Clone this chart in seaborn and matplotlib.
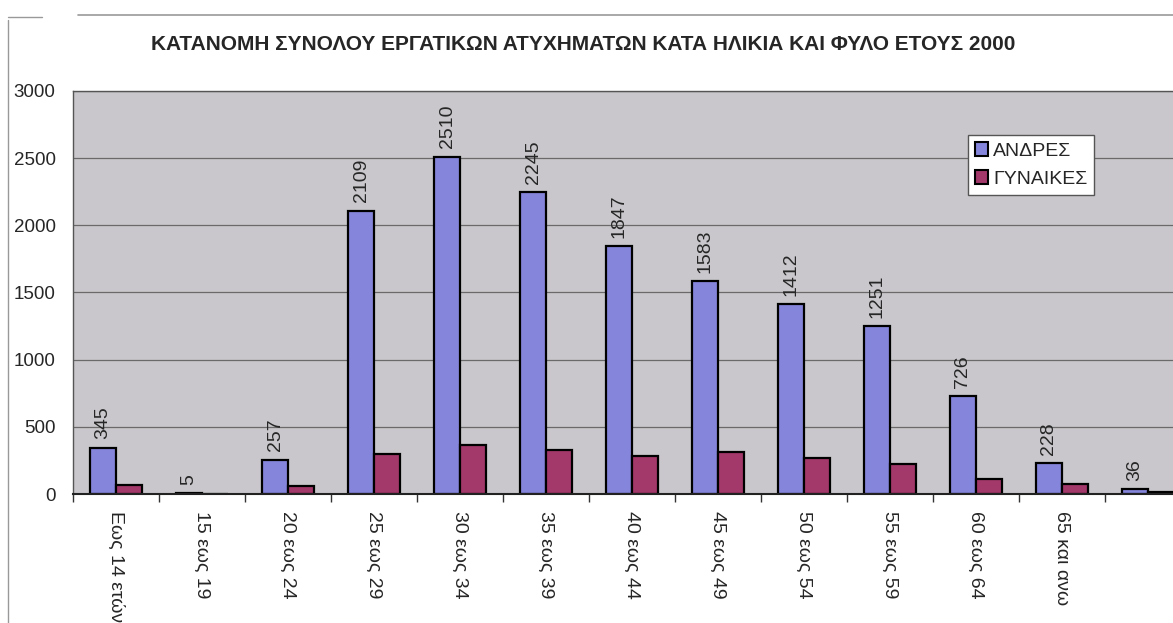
import numpy as np
import pandas as pd
import matplotlib
matplotlib.use('Agg')
import matplotlib.pyplot as plt
from matplotlib.patches import Patch
from matplotlib.lines import Line2D
import seaborn as sns

# δεδομένα
ages = ['Εως 14 ετών', '15 εως 19', '20 εως 24', '25 εως 29', '30 εως 34', '35 εως 39',
        '40 εως 44', '45 εως 49', '50 εως 54', '55 εως 59', '60 εως 64', '65 και ανω', '']
andres = [345, 5, 257, 2109, 2510, 2245, 1847, 1583, 1412, 1251, 726, 228, 36]
gynaikes = [65, 0, 60, 300, 365, 328, 283, 310, 266, 223, 109, 72, 12]
series = ['ΑΝΔΡΕΣ', 'ΓΥΝΑΙΚΕΣ']
colors = ['#8585DC', '#A3386A']

df = pd.DataFrame({
    'age': ages * 2,
    'value': andres + gynaikes,
    'sex': [series[0]] * len(ages) + [series[1]] * len(ages),
})

sns.set_style('white')
plt.rcParams['font.family'] = ['Liberation Sans', 'DejaVu Sans']

fig = plt.figure(figsize=(11.73, 6.23), dpi=100)
ax = fig.add_axes([0.0622, 0.207, 0.953, 0.647])
ax.set_facecolor('#C9C7CB')

sns.barplot(data=df, x='age', y='value', hue='sex', order=ages, hue_order=series,
            palette=colors, saturation=1, width=0.6, edgecolor='black', linewidth=1.6,
            errorbar=None, legend=False, ax=ax)

ax.set_ylim(0, 3000)
ax.set_xlim(-0.5, len(ages) - 0.5)
ax.set_yticks(np.arange(0, 3001, 500))
ax.yaxis.grid(True, color='#6A6A6A', linewidth=0.9)
ax.set_axisbelow(True)
ax.set_xlabel('')
ax.set_ylabel('')

# ετικέτες τιμών μόνο για τους άνδρες
ax.bar_label(ax.containers[0], labels=[str(v) for v in andres], rotation=90,
             padding=6, fontsize=14)

ax.tick_params(axis='y', labelsize=13.5, length=4.5, width=1, color='#333333', pad=8)
ax.set_xticks(range(len(ages)))
ax.set_xticklabels(ages, rotation=-90, fontsize=14, va='top', ha='center')
ax.set_xticks(np.arange(-0.5, len(ages), 1), minor=True)
ax.tick_params(axis='x', which='major', length=0, pad=12)
ax.tick_params(axis='x', which='minor', length=6, width=1, color='#333333', bottom=True)

for s in ['top', 'bottom', 'left', 'right']:
    ax.spines[s].set_color('#555555')
    ax.spines[s].set_linewidth(1)
ax.spines['bottom'].set_color('#222222')
ax.spines['bottom'].set_linewidth(1.5)

handles = [Patch(facecolor=c, edgecolor='black', linewidth=1.5, label=s)
           for c, s in zip(colors, series)]
leg = ax.legend(handles=handles, loc='upper left', bbox_to_anchor=(0.825, 0.783),
                bbox_transform=fig.transFigure, fontsize=14, frameon=True, fancybox=False,
                handlelength=0.7, handleheight=0.7, handletextpad=0.25, borderpad=0.35,
                labelspacing=0.55, borderaxespad=0)
leg.get_frame().set_edgecolor('#555555')
leg.get_frame().set_linewidth(1)
leg.get_frame().set_facecolor('white')
leg.get_frame().set_alpha(1)

fig.text(0.497, 1 - 45 / 623, 'ΚΑΤΑΝΟΜΗ ΣΥΝΟΛΟΥ ΕΡΓΑΤΙΚΩΝ ΑΤΥΧΗΜΑΤΩΝ ΚΑΤΑ ΗΛΙΚΙΑ ΚΑΙ ΦΥΛΟ ΕΤΟΥΣ 2000',
         ha='center', va='center', fontsize=15, fontweight='bold')

# πλαίσιο σαρωμένης σελίδας
fig.add_artist(Line2D([78 / 1173, 1], [1 - 15 / 623] * 2, color='#999999', linewidth=1.2))
fig.add_artist(Line2D([8 / 1173, 42 / 1173], [1 - 17 / 623] * 2, color='#999999', linewidth=1))
fig.add_artist(Line2D([8 / 1173] * 2, [0, 1 - 20 / 623], color='#999999', linewidth=1))

fig.savefig('out.png', dpi=100)
